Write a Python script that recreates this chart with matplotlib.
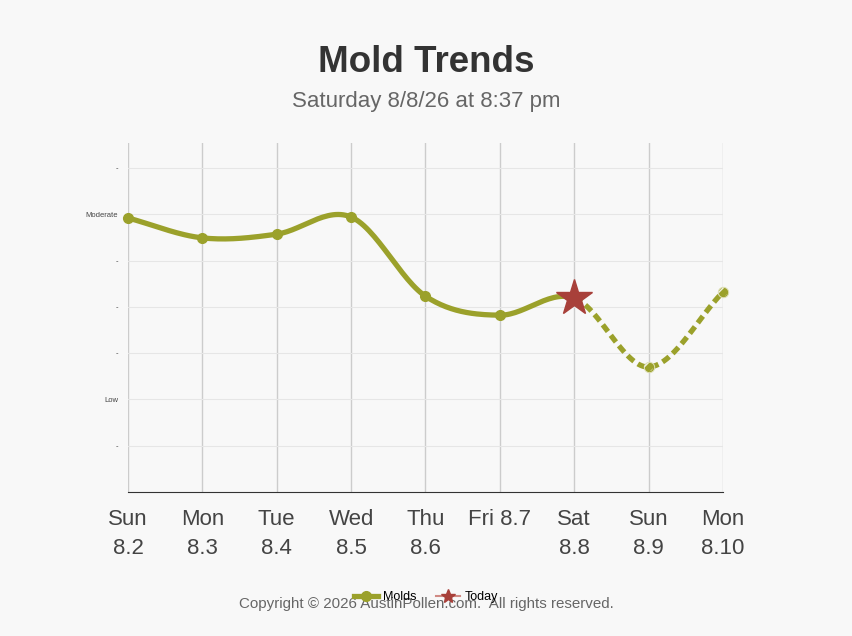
import numpy as np
import matplotlib
matplotlib.use('Agg')
import matplotlib.pyplot as plt

plt.rcParams['font.family'] = ['Liberation Sans', 'DejaVu Sans']
plt.rcParams['hatch.linewidth'] = 1.0

# データ
days = ['Sun\n8.2', 'Mon\n8.3', 'Tue\n8.4', 'Wed\n8.5', 'Thu\n8.6', 'Fri 8.7', 'Sat\n8.8', 'Sun\n8.9', 'Mon\n8.10']
mold = [5.92, 5.49, 5.57, 5.94, 4.23, 3.82, 4.19, 2.70, 4.32]
today_idx = 6
ytick_vals = [1, 2, 3, 4, 5, 6, 7]
ytick_labels = ['-', 'Low', '-', '-', '-', 'Moderate', '-']

olive = '#9ba12b'
star_red = '#a8403a'
bg = '#f8f8f8'


def catmull(xs, ys, n=30):
    # 点を滑らかにつなぐ
    xs = np.asarray(xs, float)
    ys = np.asarray(ys, float)
    px = np.concatenate([[2 * xs[0] - xs[1]], xs, [2 * xs[-1] - xs[-2]]])
    py = np.concatenate([[2 * ys[0] - ys[1]], ys, [2 * ys[-1] - ys[-2]]])
    outx, outy = [], []
    for i in range(1, len(px) - 2):
        t = np.linspace(0, 1, n)
        for p, out in ((px, outx), (py, outy)):
            p0, p1, p2, p3 = p[i - 1], p[i], p[i + 1], p[i + 2]
            out.append(0.5 * ((2 * p1) + (-p0 + p2) * t
                              + (2 * p0 - 5 * p1 + 4 * p2 - p3) * t ** 2
                              + (-p0 + 3 * p1 - 3 * p2 + p3) * t ** 3))
    return np.concatenate(outx), np.concatenate(outy)


x = np.arange(len(days))
sx, sy = catmull(x, mold)

fig = plt.figure(figsize=(8.52, 6.36), dpi=100, facecolor=bg)
ax = fig.add_axes([0.1502, 0.2264, 0.6984, 0.5488], facecolor=bg)

past = sx <= today_idx
ax.plot(sx[past], sy[past], color=olive, lw=3.8, solid_capstyle='round', zorder=3, clip_on=False)
ax.plot(sx[sx >= today_idx], sy[sx >= today_idx], color=olive, lw=3.8,
        dashes=(1.6, 0.9), zorder=3, clip_on=False)
ax.plot(x[:today_idx], mold[:today_idx], 'o', color=olive, ms=7, zorder=4, clip_on=False)
# 予報の点（斜線入り）
ax.plot(x[today_idx + 1:], mold[today_idx + 1:], 'o', ms=7.5, markerfacecolor=olive,
        markeredgecolor='#dfe0b8', mew=0.7, zorder=6, clip_on=False)
ax.scatter(x[today_idx + 1:], mold[today_idx + 1:], s=40, facecolor='none',
           edgecolor='#f0f0e0', hatch='///', linewidth=0, zorder=7, clip_on=False)
ax.plot(x[today_idx], mold[today_idx], '*', color=star_red, ms=27, zorder=5, clip_on=False)

ax.set_xlim(0, len(days) - 1)
ax.set_ylim(0, 7.54)
ax.set_xticks(x)
ax.set_xticklabels(days, fontsize=16, color='#444444', linespacing=1.5)
ax.set_yticks(ytick_vals)
ax.set_yticklabels(ytick_labels, fontsize=5.5, color='#444444')
ax.tick_params(axis='x', length=0, pad=12)
ax.tick_params(axis='y', length=0, pad=7)
ax.grid(axis='x', color='#cccccc', lw=1)
ax.grid(axis='y', color='#e6e6e6', lw=0.8)
for s in ['top', 'right', 'left']:
    ax.spines[s].set_visible(False)
ax.spines['bottom'].set_color('#333333')
ax.set_axisbelow(True)

fig.text(0.5, 1 - 63 / 636, 'Mold Trends', ha='center', va='center',
         fontsize=26.5, fontweight='bold', color='#333333')
fig.text(0.5, 1 - 101.5 / 636, 'Saturday 8/8/26 at 8:37 pm', ha='center', va='center',
         fontsize=16, color='#666666')
fig.text(0.5, 1 - 604 / 636, 'Copyright \u00a9 2026 AustinPollen.com.  All rights reserved.',
         ha='center', va='center', fontsize=10.9, color='#666666')

h1, = plt.plot([], [], color=olive, lw=3.8, marker='o', ms=7)
h2, = plt.plot([], [], color='#d08a84', lw=1.5, marker='*', ms=10,
               markerfacecolor=star_red, markeredgecolor=star_red)
fig.legend([h1, h2], ['Molds', 'Today'], loc='center', bbox_to_anchor=(0.5, 1 - 597 / 636),
           ncol=2, frameon=False, fontsize=9, handlelength=1.9, handletextpad=0.4,
           columnspacing=1.6)

plt.savefig('out.png', dpi=100, facecolor=bg)
